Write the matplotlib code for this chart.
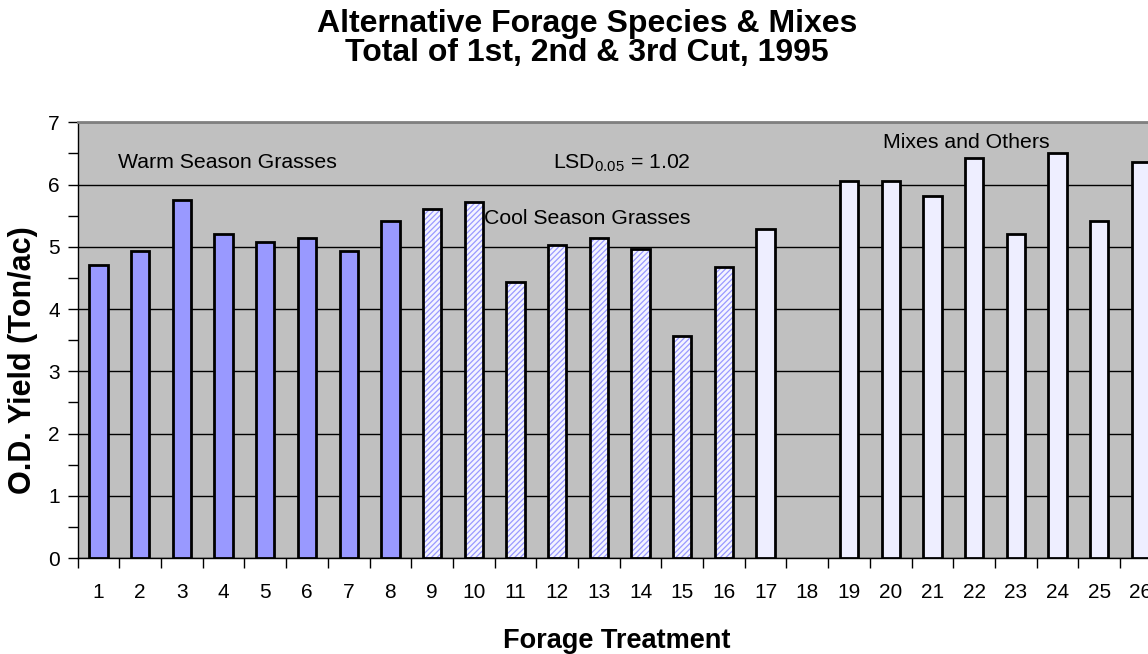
import numpy as np
import matplotlib
matplotlib.use("Agg")
import matplotlib.pyplot as plt
from matplotlib.ticker import MultipleLocator

plt.rcParams['font.family'] = ['Liberation Sans', 'DejaVu Sans']
plt.rcParams['mathtext.fontset'] = 'custom'
plt.rcParams['mathtext.rm'] = 'Liberation Sans'
plt.rcParams['hatch.linewidth'] = 0.9

# Yield per treatment (ton/ac); treatment 18 has no data
warm_ids = [1, 2, 3, 4, 5, 6, 7, 8]
warm_yield = [4.71, 4.94, 5.75, 5.20, 5.07, 5.14, 4.94, 5.41]

cool_ids = [9, 10, 11, 12, 13, 14, 15, 16]
cool_yield = [5.61, 5.72, 4.43, 5.03, 5.14, 4.97, 3.56, 4.67]

mix_ids = [17, 19, 20, 21, 22, 23, 24, 25, 26]
mix_yield = [5.28, 6.06, 6.06, 5.82, 6.43, 5.21, 6.50, 5.42, 6.37]

treatments = list(range(1, 27))

fig = plt.figure(figsize=(11.48, 6.54), dpi=100)
ax = fig.add_axes([77.7 / 1148, 96 / 654, 1084 / 1148, 435.7 / 654])
ax.set_facecolor('#C0C0C0')

w = 0.44
# warm season: solid periwinkle
ax.bar(warm_ids, warm_yield, width=w, color='#9999FF', edgecolor='black',
       linewidth=2, zorder=3)
# cool season: fine blue diagonal hatch
ax.bar(cool_ids, cool_yield, width=w, color='#F4F4FF', edgecolor='#9999FF',
       hatch='//////', linewidth=0, zorder=3)
ax.bar(cool_ids, cool_yield, width=w, fill=False, edgecolor='black',
       linewidth=2, zorder=4)
# mixes and others: pale lavender
ax.bar(mix_ids, mix_yield, width=w, color='#EEEEFF', edgecolor='black',
       linewidth=2, zorder=3)

ax.set_xlim(0.5, 26.5)
ax.set_ylim(0, 7)

ax.set_xticks(treatments)
ax.set_xticklabels([str(t) for t in treatments], fontsize=15)
ax.set_xticks(np.arange(0.5, 27, 1), minor=True)
ax.tick_params(axis='x', which='major', length=0, pad=18)
ax.tick_params(axis='x', which='minor', direction='out', length=7, width=1)

ax.yaxis.set_major_locator(MultipleLocator(1))
ax.yaxis.set_minor_locator(MultipleLocator(0.5))
ax.tick_params(axis='y', which='major', direction='out', length=7, width=1,
               labelsize=15, pad=6)
ax.tick_params(axis='y', which='minor', direction='out', length=7, width=1)

ax.yaxis.grid(True, color='black', linewidth=1, zorder=1)
ax.set_axisbelow(True)

ax.spines['top'].set_color('#808080')
ax.spines['top'].set_linewidth(2)
ax.spines['right'].set_visible(False)
ax.spines['left'].set_linewidth(1)
ax.spines['bottom'].set_linewidth(1)

# group annotations
ax.text(1.46, 6.35, 'Warm Season Grasses', fontsize=15.3, va='center', ha='left')
ax.text(11.9, 6.35, r'LSD$_{0.05}$ = 1.02', fontsize=15.3, va='center', ha='left')
ax.text(10.24, 5.46, 'Cool Season Grasses', fontsize=15.3, va='center', ha='left')
ax.text(19.81, 6.68, 'Mixes and Others', fontsize=15.3, va='center', ha='left')

fig.text(23 / 1148, 1 - 360 / 654, 'O.D. Yield (Ton/ac)', rotation=90,
         fontsize=22, fontweight='bold', ha='center', va='center')
fig.text(617 / 1148, 1 - 641 / 654, 'Forage Treatment', fontsize=19.5,
         fontweight='bold', ha='center', va='center')

fig.text(587 / 1148, 1 - 24 / 654, 'Alternative Forage Species & Mixes',
         fontsize=23, fontweight='bold', ha='center', va='center')
fig.text(587 / 1148, 1 - 53 / 654, 'Total of 1st, 2nd & 3rd Cut, 1995',
         fontsize=23, fontweight='bold', ha='center', va='center')

fig.savefig('out.png', dpi=100)
